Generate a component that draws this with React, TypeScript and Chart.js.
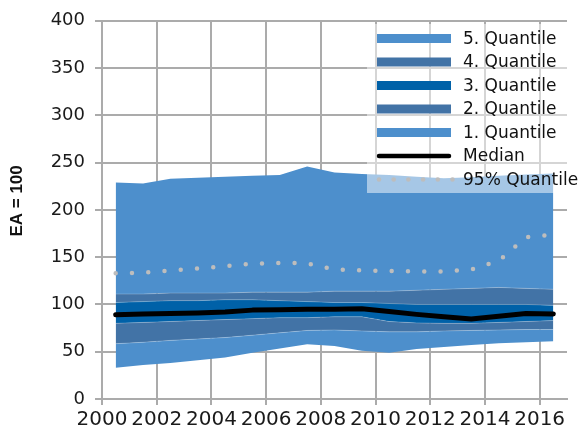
import React, { useEffect, useRef } from 'react';
import { Chart, registerables } from 'chart.js';

Chart.register(...registerables);

// ---- data ----
const years = [2000.5, 2001.5, 2002.5, 2003.5, 2004.5, 2005.5, 2006.5, 2007.5, 2008.5, 2009.5, 2010.5, 2011.5, 2012.5, 2013.5, 2014.5, 2015.5, 2016.5];
const minValues = [33, 36, 38, 41, 44, 49, 53.5, 58, 56, 51, 49, 53, 55, 57, 59, 60, 61];
const q1Top = [58.5, 60, 62, 63.5, 65, 67.5, 70, 72.5, 73, 72, 71, 71, 72, 72.5, 73, 73.5, 73.5];
const q2Top = [80, 81, 82, 83, 84, 85, 86, 86, 87, 87, 82, 80.5, 80, 80, 81, 82, 83];
const q3Top = [102, 103, 104, 104, 105, 105, 104, 103, 102, 102, 101, 100, 100, 100, 100, 100, 99];
const q4Top = [111, 111, 112, 112, 112, 113, 113, 113, 114, 114, 114, 115, 116, 117, 118, 117, 116];
const maxValues = [229, 228, 233, 234, 235, 236, 237, 246, 239.5, 238, 237, 235, 233.5, 234.5, 236, 237.5, 238.5];
const medianValues = [89, 90, 90.5, 91, 92, 94, 94.5, 95, 95, 95.5, 92.5, 89.5, 87, 84.7, 87.5, 90.5, 90];
const p95Values = [133, 133.5, 136, 138, 140.5, 143, 144, 143.5, 137, 136, 135.5, 135, 134.7, 137, 146, 171, 174];

const xTicks = [2000, 2002, 2004, 2006, 2008, 2010, 2012, 2014, 2016];
const yTicks = [0, 50, 100, 150, 200, 250, 300, 350, 400];

const yTitle = 'EA = 100';
const legendOrder = ['5. Quantile', '4. Quantile', '3. Quantile', '2. Quantile', '1. Quantile', 'Median', '95% Quantile'];

// ---- styles ----
const LIGHT = '#4d8fcc';
const STEEL = '#4273a6';
const DARK = '#0061a8';
const DOT = '#bdbdbd';
const GRID = '#ababab';
const SEAM = 'rgba(255,255,255,0.22)';
const FONT = '"DejaVu Sans", sans-serif';

const pts = (vals: number[]) => vals.map((v, i) => ({ x: years[i], y: v }));

const legendPlugin = {
  id: 'overlayLegend',
  afterDraw(chart: any) {
    const ctx = chart.ctx as CanvasRenderingContext2D;
    const area = chart.chartArea;
    const boxLeft = area.right - 200;
    ctx.save();
    ctx.fillStyle = 'rgba(255,255,255,0.5)';
    ctx.fillRect(boxLeft, 24, chart.width - boxLeft, 169);
    const sx = boxLeft + 10;
    const sw = 74;
    legendOrder.forEach((label, i) => {
      const ds = chart.data.datasets.find((d: any) => d.label === label);
      if (!ds) return;
      const y = 38.5 + i * 23.5;
      if (label === 'Median') {
        ctx.strokeStyle = '#000';
        ctx.lineWidth = 4.5;
        ctx.lineCap = 'round';
        ctx.beginPath();
        ctx.moveTo(sx + 2, y);
        ctx.lineTo(sx + sw - 2, y);
        ctx.stroke();
      } else if (label === '95% Quantile') {
        ctx.fillStyle = DOT;
        for (let k = 0; k < 6; k++) {
          ctx.beginPath();
          ctx.arc(sx + 2 + k * 14.7, y, 2.3, 0, Math.PI * 2);
          ctx.fill();
        }
      } else {
        ctx.fillStyle = ds.backgroundColor;
        ctx.fillRect(sx, y - 4.5, sw, 9);
      }
      ctx.fillStyle = '#111';
      ctx.font = '17px ' + FONT;
      ctx.textBaseline = 'middle';
      ctx.textAlign = 'left';
      ctx.fillText(label, sx + sw + 12, y + 1);
    });

    // y-axis title
    ctx.save();
    ctx.translate(17, (area.top + area.bottom) / 2 - 9);
    ctx.rotate(-Math.PI / 2);
    ctx.fillStyle = '#111';
    ctx.font = 'bold 17px "Liberation Sans", Arial, sans-serif';
    ctx.textAlign = 'center';
    ctx.textBaseline = 'middle';
    ctx.fillText(yTitle, 0, 0);
    ctx.restore();

    ctx.restore();
  },
};

export default function App() {
  const canvasRef = useRef<HTMLCanvasElement | null>(null);

  useEffect(() => {
    document.body.style.margin = '0';
    const canvas = canvasRef.current;
    if (!canvas) return;
    const band = (label: string, data: number[], color: string, seam: string) => ({
      label,
      data: pts(data),
      backgroundColor: color,
      borderColor: seam,
      borderWidth: 1,
      pointRadius: 0,
      tension: 0,
      fill: '-1',
    });
    const chart = new Chart(canvas, {
      type: 'line',
      data: {
        datasets: [
          {
            label: 'Minimum',
            data: pts(minValues),
            borderColor: 'rgba(0,0,0,0)',
            borderWidth: 1,
            pointRadius: 0,
            fill: false,
          },
          band('1. Quantile', q1Top, LIGHT, SEAM),
          band('2. Quantile', q2Top, STEEL, SEAM),
          band('3. Quantile', q3Top, DARK, SEAM),
          band('4. Quantile', q4Top, STEEL, SEAM),
          band('5. Quantile', maxValues, LIGHT, 'rgba(0,0,0,0)'),
          {
            label: 'Median',
            data: pts(medianValues),
            borderColor: '#000',
            borderWidth: 5,
            borderCapStyle: 'round',
            borderJoinStyle: 'round',
            pointRadius: 0,
            fill: false,
          },
          {
            label: '95% Quantile',
            data: pts(p95Values),
            borderColor: DOT,
            borderWidth: 4.5,
            borderDash: [0, 16.3],
            borderCapStyle: 'round',
            pointRadius: 0,
            fill: false,
          },
        ] as any,
      },
      options: {
        animation: false,
        responsive: false,
        events: [],
        layout: { padding: { top: 18, right: 20, left: 0, bottom: 0 } },
        plugins: {
          legend: { display: false },
          tooltip: { enabled: false },
          filler: { drawTime: 'beforeDatasetsDraw' },
        } as any,
        scales: {
          x: {
            type: 'linear',
            min: 2000,
            max: 2017,
            afterBuildTicks: (scale: any) => {
              scale.ticks = xTicks.map((v) => ({ value: v }));
            },
            afterFit: (scale: any) => {
              scale.height = 33;
            },
            grid: { color: GRID, lineWidth: 2, tickLength: 6, drawTicks: true },
            border: { color: GRID, width: 2 },
            ticks: {
              autoSkip: false,
              maxRotation: 0,
              includeBounds: false,
              padding: 3,
              color: '#1a1a1a',
              font: { family: FONT, size: 20 },
              callback: (v: any) => String(v),
            },
          },
          y: {
            type: 'linear',
            min: 0,
            max: 400,
            afterBuildTicks: (scale: any) => {
              scale.ticks = yTicks.map((v) => ({ value: v }));
            },
            afterFit: (scale: any) => {
              scale.width = 102;
            },
            grid: { color: GRID, lineWidth: 2, tickLength: 7, drawTicks: true },
            border: { color: GRID, width: 2 },
            ticks: {
              padding: 10,
              color: '#1a1a1a',
              font: { family: FONT, size: 18 },
            },
          },
        } as any,
      },
      plugins: [legendPlugin],
    } as any);
    return () => chart.destroy();
  }, []);

  return (
    <div style={{ width: 587, height: 432, position: 'relative' }}>
      <canvas ref={canvasRef} width={587} height={432} />
    </div>
  );
}
